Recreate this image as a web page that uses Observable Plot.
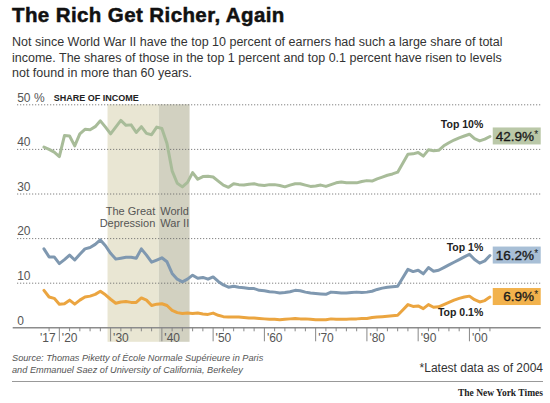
<!DOCTYPE html>
<html><head><meta charset="utf-8">
<script src="https://cdn.jsdelivr.net/npm/d3@7"></script>
<script src="https://cdn.jsdelivr.net/npm/@observablehq/plot@0.6"></script>
<style>
body{margin:0;background:#fff;width:550px;height:403px;overflow:hidden;position:relative;font-family:"Liberation Sans",Arial,sans-serif;}
.abs{position:absolute;white-space:nowrap;}
</style></head><body>
<div class="abs" style="left:12px;top:2.6px;font-size:20.5px;line-height:24px;font-weight:bold;letter-spacing:0.4px;color:#111;-webkit-text-stroke:0.5px #111">The Rich Get Richer, Again</div>
<div class="abs" style="left:12px;top:35px;font-size:12.5px;line-height:15.7px;color:#333">Not since World War II have the top 10 percent of earners had such a large share of total<br>income. The shares of those in the top 1 percent and top 0.1 percent have risen to levels<br>not found in more than 60 years.</div>
<div id="chart" class="abs" style="left:0;top:86px"></div>
<div class="abs" style="left:12px;top:352px;font-size:9.2px;line-height:12px;font-style:italic;color:#555">Source: Thomas Piketty of École Normale Supérieure in Paris<br>and Emmanuel Saez of University of California, Berkeley</div>
<div class="abs" style="right:7px;top:360px;font-size:12px;line-height:16px;color:#333">*Latest data as of 2004</div>
<div class="abs" style="left:12px;top:380.5px;width:531px;height:1.5px;background:#999"></div>
<div class="abs" style="right:7px;top:387px;font-family:'Liberation Serif',serif;font-weight:bold;font-size:9.5px;line-height:12px;color:#222">The New York Times</div>
<script>
const years = [1917,1918,1919,1920,1921,1922,1923,1924,1925,1926,
1927,1928,1929,1930,1931,1932,1933,1934,1935,1936,
1937,1938,1939,1940,1941,1942,1943,1944,1945,1946,
1947,1948,1949,1950,1951,1952,1953,1954,1955,1956,
1957,1958,1959,1960,1961,1962,1963,1964,1965,1966,
1967,1968,1969,1970,1971,1972,1973,1974,1975,1976,
1977,1978,1979,1980,1981,1982,1983,1984,1985,1986,
1987,1988,1989,1990,1991,1992,1993,1994,1995,1996,
1997,1998,1999,2000,2001,2002,2003,2004];
const top10 = [40.5,40.0,39.4,38.4,43.1,43.0,40.8,43.5,44.5,44.4,
45.1,46.4,45.0,43.5,45.0,46.5,45.4,45.5,43.8,45.1,
43.6,43.3,45.0,44.7,41.3,35.2,32.4,31.6,32.6,34.8,
33.3,33.9,34.0,33.8,32.9,32.0,31.5,32.3,32.1,32.0,
32.2,32.3,32.0,31.9,32.1,32.1,31.9,31.6,32.0,32.3,
32.3,32.0,31.7,31.8,32.0,31.7,32.1,32.5,32.7,32.5,
32.5,32.5,32.8,33.0,32.9,33.4,33.8,34.2,34.5,34.9,
36.9,38.9,39.0,39.3,38.5,39.9,39.7,39.8,40.8,41.5,
42.1,42.6,43.0,43.4,42.4,41.9,42.3,42.9];
const top1 = [17.7,15.9,15.9,14.4,15.3,16.3,15.2,16.5,17.7,18.0,
18.7,19.7,18.4,16.7,15.4,15.6,15.8,15.8,15.6,17.7,
16.3,14.7,15.2,15.7,14.8,12.2,10.9,10.3,10.9,11.8,
11.1,11.3,10.9,11.4,10.4,9.6,9.1,9.3,9.1,9.0,
8.8,8.8,8.4,8.3,8.1,8.0,7.8,7.9,8.1,8.4,
8.3,8.0,7.8,7.7,7.6,7.5,8.0,7.9,7.8,7.8,
7.9,8.0,7.9,8.0,8.2,8.6,8.9,9.1,9.2,9.3,
11.2,13.1,12.6,12.9,12.1,13.5,12.7,12.9,13.5,14.1,
14.7,15.3,15.9,16.5,15.3,14.5,15.0,16.2];
const top01 = [8.4,6.9,6.6,5.3,5.4,6.2,5.3,6.2,6.9,7.1,
7.5,8.2,7.4,6.4,5.5,5.8,5.9,5.7,5.7,6.7,
6.2,5.0,5.3,5.4,5.0,3.9,3.4,3.2,3.3,3.2,
3.3,3.1,3.0,3.3,2.8,2.5,2.4,2.4,2.4,2.3,
2.2,2.2,2.1,2.0,1.9,1.9,1.8,1.9,2.0,2.1,
2.0,2.0,1.9,1.8,1.8,1.8,2.0,1.9,1.9,1.9,
2.0,2.0,2.1,2.1,2.3,2.4,2.5,2.6,2.7,2.8,
4.0,5.2,4.8,4.9,4.3,5.2,4.6,4.7,5.2,5.7,
6.2,6.6,6.9,7.1,6.3,5.8,6.1,6.9];
const seriesNames = ["Top 10%", "Top 1%", "Top 0.1%"];
const periodNames = ["The Great\nDepression", "World\nWar II"];
const periodStart = [1929, 1939];
const periodEnd = [1939, 1945];
const yTicks = [0, 10, 20, 30, 40, 50];
const yTickLabels = ["0", "10", "20", "30", "40", "50 %"];
const decadeTicks = [1920, 1930, 1940, 1950, 1960, 1970, 1980, 1990, 2000];
const decadeLabels = ["'20", "'30", "'40", "'50", "'60", "'70", "'80", "'90", "'00"];
const minorTicks = [1918, 1922, 1924, 1926, 1928, 1932, 1934, 1936, 1938, 1942, 1944, 1946, 1948,
  1952, 1954, 1956, 1958, 1962, 1964, 1966, 1968, 1972, 1974, 1976, 1978, 1982, 1984, 1986, 1988,
  1992, 1994, 1996, 1998, 2002, 2004];
const firstLabel = [1917];
const firstLabelText = ["'17"];

// styling (kept out of data)
const look = {
  "Top 10%": {line: "#a8bc99", box: "#bac8a8", dy: -11.5},
  "Top 1%": {line: "#7f98b0", box: "#a8bfd6", dy: -8.2},
  "Top 0.1%": {line: "#eba540", box: "#f2b24c", dy: 16}
};

const seriesValues = [top10, top1, top01];
const seriesList = seriesNames.map((name, k) => ({name, values: seriesValues[k]}));
const rows = seriesList.map(s => years.map((year, i) => ({series: s.name, year, value: s.values[i]})));
const lastPts = seriesList.map(s => ({series: s.name, year: years[years.length - 1], value: s.values[s.values.length - 1]}));
const periods = periodNames.map((name, i) => ({name, start: periodStart[i], end: periodEnd[i]}));
const periodFill = ["#e9e6d3", "#d2d1c1"];

const gray = "#555";
const plot = Plot.plot({
  width: 550, height: 262,
  marginLeft: 12.7, marginRight: 9.3, marginTop: 18.3, marginBottom: 20.7,
  x: {domain: [1911, 2014], axis: null},
  y: {domain: [0, 50], axis: null},
  color: {type: "identity"},
  style: {fontFamily: "'Liberation Sans', Arial, sans-serif", background: "transparent", overflow: "visible"},
  marks: [
    Plot.rect(periods, {x1: d => d.start + 0.5, x2: d => d.end + 0.5, y1: 0, y2: 50, insetBottom: -14.5,
      fill: (d, i) => periodFill[i]}),
    Plot.ruleY(yTicks.filter(v => v > 0), {y: d => d, stroke: "#666", strokeDasharray: "1,2", strokeWidth: 1, insetLeft: 4.5}),
    Plot.ruleY([0], {y: d => d, stroke: "#8c8c8c", strokeWidth: 1.5}),
    Plot.ruleX(decadeTicks, {x: d => d, y1: 0, y2: 0, insetBottom: -14, stroke: "#888", strokeWidth: 1}),
    Plot.ruleX(minorTicks, {x: d => d, y1: 0, y2: 0, insetBottom: -4, stroke: "#888", strokeWidth: 1}),
    Plot.text(decadeTicks, {x: d => d, y: 0, text: (d, i) => decadeLabels[i], textAnchor: "start", dx: 2.5, dy: 10.5, fill: gray, fontSize: 12}),
    Plot.text(firstLabel, {x: d => d, y: 0, text: (d, i) => firstLabelText[i], textAnchor: "start", dx: -4, dy: 10.5, fill: gray, fontSize: 12}),
    Plot.text(yTicks, {y: d => d, text: (d, i) => yTickLabels[i], frameAnchor: "left", dx: 4, dy: -7, textAnchor: "start", fill: gray, fontSize: 12}),
    Plot.text([yTicks[yTicks.length - 1]], {y: d => d, text: () => "SHARE OF INCOME", frameAnchor: "left", dx: 40.5, dy: -7, textAnchor: "start", fontWeight: "bold", fontSize: 9, fill: "#222"}),
    Plot.text(periods.slice(0, 1), {x: d => d.end + 0.5, text: "name", frameAnchor: "top", dy: 112, dx: -4, textAnchor: "end", lineAnchor: "middle", lineHeight: 1.12, fontSize: 11, fill: gray}),
    Plot.text(periods.slice(1, 2), {x: d => d.start + 0.5, text: "name", frameAnchor: "top", dy: 112, dx: 1, textAnchor: "start", lineAnchor: "middle", lineHeight: 1.12, fontSize: 11, fill: gray}),
    ...rows.map((r, k) => Plot.line(r, {x: "year", y: "value", stroke: look[seriesNames[k]].line, strokeWidth: 3, strokeLinejoin: "round"})),
    Plot.rect(lastPts, {x1: "year", x2: "year", y1: "value", y2: "value", insetLeft: 3.3, insetRight: -51.3, insetTop: -8.5, insetBottom: -8.5, fill: d => look[d.series].box}),
    Plot.text(lastPts, {x: "year", y: "value", text: d => d.value.toFixed(1) + "%", textAnchor: "end", dx: 44, fontSize: 13.5, fill: "#1a1a1a", stroke: "#1a1a1a", strokeWidth: 0.35}),
    Plot.text(lastPts, {x: "year", y: "value", text: () => "*", textAnchor: "start", dx: 44.3, dy: -2, fontSize: 10, fill: "#1a1a1a"}),
    ...lastPts.map(p => Plot.text([p], {x: "year", y: "value", text: "series", textAnchor: "end", dx: -6.7, dy: look[p.series].dy, fontWeight: "bold", fontSize: 10.5, fill: "#222"}))
  ]
});
document.getElementById("chart").appendChild(plot);
</script>
</body></html>
